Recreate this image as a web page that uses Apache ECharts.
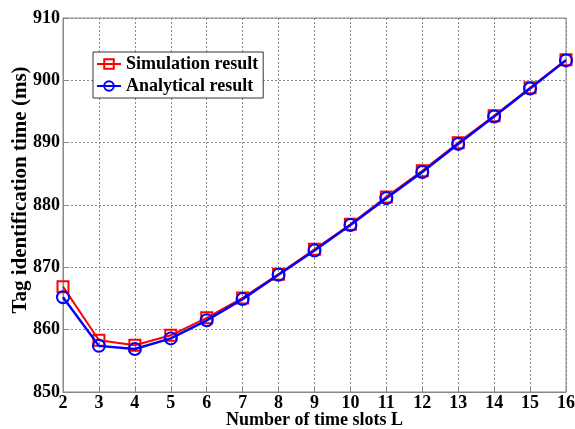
<!DOCTYPE html>
<html><head><meta charset="utf-8">
<script src="https://cdn.jsdelivr.net/npm/echarts@6/dist/echarts.min.js"></script>
<style>html,body{margin:0;padding:0;background:#fff}#c{width:575px;height:429px}</style>
</head><body><div id="c"></div>
<script>
const slots = [2,3,4,5,6,7,8,9,10,11,12,13,14,15,16];
const simulation = [866.9,858.3,857.5,859.1,861.9,865.1,868.9,872.9,876.9,881.3,885.5,890.0,894.3,898.8,903.3];
const analytical = [865.2,857.4,856.9,858.6,861.5,864.9,868.8,872.7,876.8,881.1,885.3,889.8,894.2,898.7,903.2];
const yTicks = [850,860,870,880,890,900,910];
const font = "'Liberation Serif','Times New Roman',serif";
const chart = echarts.init(document.getElementById('c'));
chart.setOption({
  animation:false,
  grid:{left:63,right:9,top:18,bottom:37,outerBoundsMode:'none',containLabel:false,show:true,borderColor:'#888',borderWidth:1,backgroundColor:'transparent'},
  legend:{
    orient:'vertical',left:93,top:52,
    backgroundColor:'#fff',borderColor:'#333',borderWidth:1,padding:[3,5,3,3],
    itemWidth:24,itemHeight:12,itemGap:4,
    textStyle:{fontFamily:font,fontWeight:'bold',fontSize:18,color:'#000'},
    data:['Simulation result','Analytical result']
  },
  xAxis:{
    type:'value',min:2,max:16,interval:1,
    name:'Number of time slots L',nameLocation:'middle',nameGap:19,nameMoveOverlap:false,
    nameTextStyle:{fontFamily:font,fontWeight:'bold',fontSize:18,color:'#000'},
    axisLine:{lineStyle:{color:'#888'}},
    axisTick:{inside:true,length:4,lineStyle:{color:'#888'}},
    axisLabel:{fontFamily:font,fontWeight:'bold',fontSize:18,color:'#000',margin:2},
    splitLine:{show:true,lineStyle:{type:[2,2],color:'#888',width:1}}
  },
  yAxis:{
    type:'value',min:850,max:910,interval:10,
    name:'Tag identification time (ms)',nameLocation:'middle',nameGap:32,nameMoveOverlap:false,
    nameTextStyle:{fontFamily:font,fontWeight:'bold',fontSize:21,color:'#000',padding:[0,0,0,30]},
    axisLine:{show:true,lineStyle:{color:'#888'}},
    axisTick:{show:true,inside:true,length:4,lineStyle:{color:'#888'}},
    axisLabel:{fontFamily:font,fontWeight:'bold',fontSize:18,color:'#000',margin:3,
      formatter:v=>yTicks.includes(v)?String(v):''},
    splitLine:{show:true,lineStyle:{type:[2,2],color:'#888',width:1}}
  },
  series:[
    {name:'Simulation result',type:'line',data:slots.map((x,i)=>[x,simulation[i]]),
     symbol:'rect',symbolSize:11,showAllSymbol:true,
     itemStyle:{color:'transparent',borderColor:'#ff0000',borderWidth:2},
     lineStyle:{color:'#ff0000',width:2},color:'#ff0000',z:2},
    {name:'Analytical result',type:'line',data:slots.map((x,i)=>[x,analytical[i]]),
     symbol:'circle',symbolSize:12,showAllSymbol:true,
     itemStyle:{color:'transparent',borderColor:'#0000ff',borderWidth:2},
     lineStyle:{color:'#0000ff',width:2.5},color:'#0000ff',z:3}
  ]
});
</script></body></html>
